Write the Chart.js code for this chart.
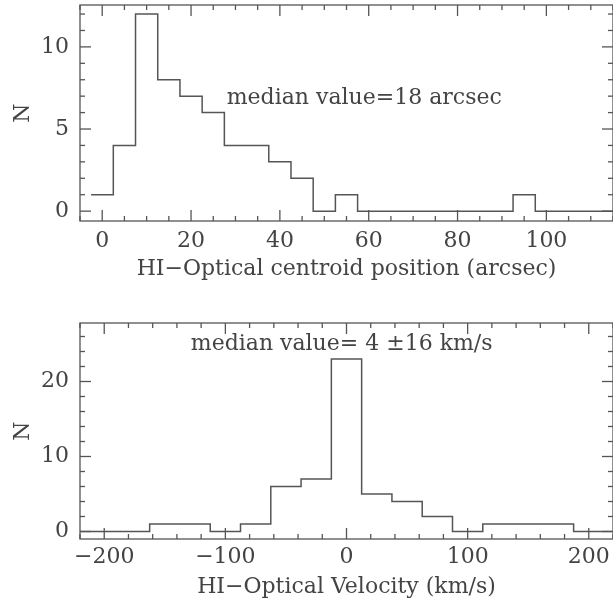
<!DOCTYPE html>
<html>
<head>
<meta charset="utf-8">
<script src="https://cdn.jsdelivr.net/npm/chart.js@4.4.1/dist/chart.umd.min.js"></script>
<style>
  html, body { margin: 0; padding: 0; background: #fff; overflow: hidden; }
  .panel { position: absolute; left: 0; }
</style>
</head>
<body>
<div class="panel" style="top:0"><canvas id="posChart" width="620" height="300"></canvas></div>
<div class="panel" style="top:300px"><canvas id="velChart" width="620" height="303"></canvas></div>
<script>
// top panel: HI-optical centroid offset, 5 arcsec bins
const posBins = [0, 5, 10, 15, 20, 25, 30, 35, 40, 45, 50, 55, 60, 65, 70, 75, 80, 85, 90, 95, 100, 105, 110, 115];
const posCounts = [1, 4, 12, 8, 7, 6, 4, 4, 3, 2, 0, 1, 0, 0, 0, 0, 0, 0, 0, 1, 0, 0, 0, 0];
const posXTicks = [0, 20, 40, 60, 80, 100];
const posYTicks = [0, 5, 10];

// bottom panel: HI-optical velocity difference, 25 km/s bins
const velBins = [-225, -200, -175, -150, -125, -100, -75, -50, -25, 0, 25, 50, 75, 100, 125, 150, 175, 200, 225];
const velCounts = [0, 0, 0, 1, 1, 0, 1, 6, 7, 23, 5, 4, 2, 0, 1, 1, 1, 0, 0];
const velXTicks = [-200, -100, 0, 100, 200];
const velYTicks = [0, 10, 20];

const inkLine = '#555';
const inkText = '#444';
const fontFamily = '"DejaVu Serif", "Liberation Serif", serif';
const fontSize = 22;

// bin centers -> step outline points (left edges + closing right edge)
function stepPoints(centers, counts) {
    const w = centers[1] - centers[0];
    const pts = centers.map((c, i) => ({ x: c - w / 2, y: counts[i] }));
    pts.push({ x: centers[centers.length - 1] + w / 2, y: counts[counts.length - 1] });
    return pts;
}

// PGPLOT-ish box: frame with inward major/minor ticks on all sides + note text
const frameTicks = {
    id: 'frameTicks',
    afterDraw(chart, args, opts) {
        const { ctx, chartArea: a, scales: { x, y } } = chart;
        ctx.save();
        ctx.strokeStyle = inkLine;
        ctx.lineWidth = 1.3;
        ctx.strokeRect(a.left, a.top, a.right - a.left, a.bottom - a.top);

        const seg = (x1, y1, x2, y2) => {
            ctx.beginPath();
            ctx.moveTo(x1, y1);
            ctx.lineTo(x2, y2);
            ctx.stroke();
        };

        for (let k = Math.ceil(x.min / opts.xMinor); k * opts.xMinor <= x.max; k++) {
            const v = k * opts.xMinor;
            const px = x.getPixelForValue(v);
            const len = v % opts.xMajor === 0 ? 11 : 5;
            seg(px, a.bottom, px, a.bottom - len);
            seg(px, a.top, px, a.top + len);
        }
        for (let k = Math.ceil(y.min / opts.yMinor); k * opts.yMinor <= y.max; k++) {
            const v = k * opts.yMinor;
            const py = y.getPixelForValue(v);
            const len = v % opts.yMajor === 0 ? 11 : 5;
            seg(a.left, py, a.left + len, py);
            seg(a.right, py, a.right - len, py);
        }

        if (opts.note) {
            ctx.fillStyle = inkText;
            ctx.font = fontSize + 'px ' + fontFamily;
            ctx.textAlign = 'center';
            ctx.textBaseline = 'middle';
            ctx.fillText(opts.note.text, x.getPixelForValue(opts.note.x), y.getPixelForValue(opts.note.y));
        }
        ctx.restore();
    }
};

function makeHist(canvasId, centers, counts, cfg) {
    new Chart(document.getElementById(canvasId), {
        type: 'line',
        data: {
            datasets: [{
                data: stepPoints(centers, counts),
                stepped: 'before',
                borderColor: inkLine,
                borderWidth: 1.5,
                pointRadius: 0,
                fill: false
            }]
        },
        options: {
            responsive: false,
            animation: false,
            devicePixelRatio: 1,
            layout: { padding: { left: 0, top: cfg.padTop, right: 7, bottom: 0 } },
            plugins: {
                legend: { display: false },
                tooltip: { enabled: false },
                frameTicks: cfg.frame
            },
            scales: {
                x: {
                    type: 'linear',
                    min: cfg.xMin,
                    max: cfg.xMax,
                    grid: { display: false, drawTicks: false },
                    border: { display: false },
                    afterBuildTicks: s => { s.ticks = cfg.xTicks.map(v => ({ value: v })); },
                    afterFit: s => {
                        s.height = cfg.xAxisHeight;
                        s.paddingLeft = 0;
                        s.paddingRight = 0;
                    },
                    ticks: {
                        color: inkText,
                        font: { family: fontFamily, size: fontSize },
                        padding: cfg.xTickPad,
                        maxRotation: 0,
                        autoSkip: false,
                        callback: v => String(v).replace('-', '\u2212')
                    },
                    title: {
                        display: true,
                        text: cfg.xTitle,
                        color: inkText,
                        font: { family: fontFamily, size: fontSize },
                        padding: cfg.xTitlePad
                    }
                },
                y: {
                    min: cfg.yMin,
                    max: cfg.yMax,
                    grid: { display: false, drawTicks: false },
                    border: { display: false },
                    afterBuildTicks: s => { s.ticks = cfg.yTicks.map(v => ({ value: v })); },
                    afterFit: s => {
                        s.width = 80;
                        s.paddingTop = 0;
                        s.paddingBottom = 0;
                    },
                    ticks: {
                        color: inkText,
                        font: { family: fontFamily, size: fontSize },
                        padding: 11
                    },
                    title: {
                        display: true,
                        text: 'N',
                        color: inkText,
                        font: { family: fontFamily, size: fontSize },
                        padding: 10
                    }
                }
            }
        },
        plugins: [frameTicks]
    });
}

makeHist('posChart', posBins, posCounts, {
    padTop: 5,
    xMin: -5, xMax: 115,
    yMin: -0.6, yMax: 12.55,
    xTicks: posXTicks, yTicks: posYTicks,
    xAxisHeight: 79, xTickPad: 7, xTitlePad: 18,
    xTitle: 'HI\u2212Optical centroid position (arcsec)',
    frame: { xMinor: 5, xMajor: 20, yMinor: 1, yMajor: 5,
             note: { text: 'median value=18 arcsec', x: 59, y: 6.9 } }
});

makeHist('velChart', velBins, velCounts, {
    padTop: 23,
    xMin: -220, xMax: 220,
    yMin: -1.0, yMax: 27.8,
    xTicks: velXTicks, yTicks: velYTicks,
    xAxisHeight: 64, xTickPad: 5, xTitlePad: 3,
    xTitle: 'HI\u2212Optical Velocity (km/s)',
    frame: { xMinor: 20, xMajor: 100, yMinor: 2, yMajor: 10,
             note: { text: 'median value= 4 \u00b116 km/s', x: -4, y: 25 } }
});
</script>
</body>
</html>
